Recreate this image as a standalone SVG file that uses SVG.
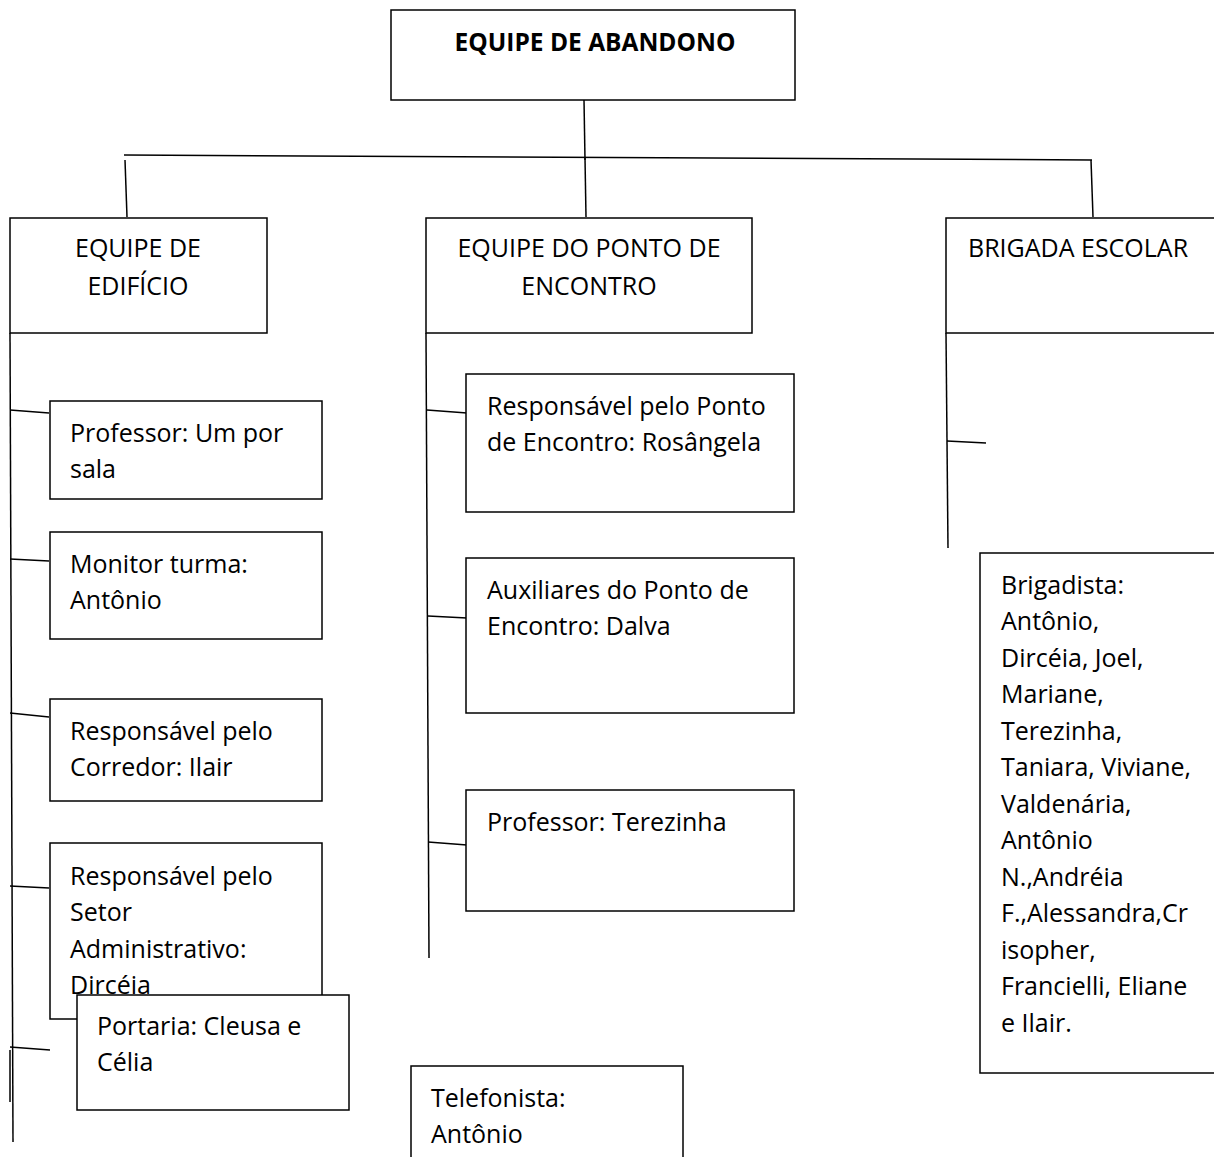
<svg xmlns="http://www.w3.org/2000/svg" width="1214" height="1157" viewBox="0 0 1214 1157">
<style>
.box{fill:#fff;stroke:#000;stroke-width:1.5}
.t{font-family:"Open Sans","Noto Sans","Liberation Sans",sans-serif;font-size:25px;fill:#000}
.b{font-weight:bold;font-size:24.5px}
.c{text-anchor:middle}
.ln{stroke:#000;stroke-width:1.5;fill:none}
</style>
<rect width="1214" height="1157" fill="#fff"/>
<g id="connectors">
<line class="ln" x1="584" y1="100" x2="585" y2="160"/>
<line class="ln" x1="124" y1="155" x2="1092" y2="160"/>
<line class="ln" x1="125" y1="160" x2="127" y2="217"/>
<line class="ln" x1="585" y1="158" x2="586" y2="217"/>
<line class="ln" x1="1091" y1="160" x2="1093" y2="217"/>
<line class="ln" x1="10" y1="333" x2="13" y2="1142"/>
<line class="ln" x1="10" y1="1050" x2="10" y2="1102"/>
<line class="ln" x1="10" y1="410" x2="49" y2="413"/>
<line class="ln" x1="10" y1="559" x2="49" y2="561"/>
<line class="ln" x1="10" y1="713" x2="49" y2="717"/>
<line class="ln" x1="10" y1="886" x2="49" y2="888"/>
<line class="ln" x1="10" y1="1047" x2="50" y2="1050"/>
<line class="ln" x1="426" y1="333" x2="429" y2="958"/>
<line class="ln" x1="427" y1="410" x2="467" y2="413"/>
<line class="ln" x1="428" y1="616" x2="467" y2="618"/>
<line class="ln" x1="428" y1="842" x2="467" y2="845"/>
<line class="ln" x1="946" y1="333" x2="948" y2="548"/>
<line class="ln" x1="947" y1="441" x2="986" y2="443"/>
</g>
<g id="root">
<rect class="box" x="391" y="10" width="404" height="90"/>
<text class="t b c" x="595" y="51">EQUIPE DE ABANDONO</text>
</g>
<g id="equipe-edificio">
<rect class="box" x="10" y="218" width="257" height="115"/>
<text class="t c" x="138" y="257">EQUIPE DE</text>
<text class="t c" x="138" y="295">EDIFÍCIO</text>
</g>
<g id="equipe-ponto">
<rect class="box" x="426" y="218" width="326" height="115"/>
<text class="t c" x="589" y="257">EQUIPE DO PONTO DE</text>
<text class="t c" x="589" y="295">ENCONTRO</text>
</g>
<g id="brigada">
<rect class="box" x="946" y="218" width="280" height="115"/>
<text class="t" x="968" y="257">BRIGADA ESCOLAR</text>
</g>
<g id="professor">
<rect class="box" x="50" y="401" width="272" height="98"/>
<text class="t" x="70" y="442">Professor: Um por</text>
<text class="t" x="70" y="478">sala</text>
</g>
<g id="monitor">
<rect class="box" x="50" y="532" width="272" height="107"/>
<text class="t" x="70" y="573">Monitor turma:</text>
<text class="t" x="70" y="609">Antônio</text>
</g>
<g id="corredor">
<rect class="box" x="50" y="699" width="272" height="102"/>
<text class="t" x="70" y="740">Responsável pelo</text>
<text class="t" x="70" y="776">Corredor: Ilair</text>
</g>
<g id="setor">
<rect class="box" x="50" y="843" width="272" height="176"/>
<text class="t" x="70" y="885">Responsável pelo</text>
<text class="t" x="70" y="921">Setor</text>
<text class="t" x="70" y="958">Administrativo:</text>
<text class="t" x="70" y="994">Dircéia</text>
</g>
<g id="portaria">
<rect class="box" x="77" y="995" width="272" height="115"/>
<text class="t" x="97" y="1035">Portaria: Cleusa e</text>
<text class="t" x="97" y="1071">Célia</text>
</g>
<g id="resp-ponto">
<rect class="box" x="466" y="374" width="328" height="138"/>
<text class="t" x="487" y="415">Responsável pelo Ponto</text>
<text class="t" x="487" y="451">de Encontro: Rosângela</text>
</g>
<g id="auxiliares">
<rect class="box" x="466" y="558" width="328" height="155"/>
<text class="t" x="487" y="599">Auxiliares do Ponto de</text>
<text class="t" x="487" y="635">Encontro: Dalva</text>
</g>
<g id="prof-terezinha">
<rect class="box" x="466" y="790" width="328" height="121"/>
<text class="t" x="487" y="831">Professor: Terezinha</text>
</g>
<g id="telefonista">
<rect class="box" x="411" y="1066" width="272" height="110"/>
<text class="t" x="431" y="1107">Telefonista:</text>
<text class="t" x="431" y="1143">Antônio</text>
</g>
<g id="brigadista">
<rect class="box" x="980" y="553" width="250" height="520"/>
<text class="t" x="1001" y="594">Brigadista:</text>
<text class="t" x="1001" y="630">Antônio,</text>
<text class="t" x="1001" y="667">Dircéia, Joel,</text>
<text class="t" x="1001" y="703">Mariane,</text>
<text class="t" x="1001" y="740">Terezinha,</text>
<text class="t" x="1001" y="776">Taniara, Viviane,</text>
<text class="t" x="1001" y="813">Valdenária,</text>
<text class="t" x="1001" y="849">Antônio</text>
<text class="t" x="1001" y="886">N.,Andréia</text>
<text class="t" x="1001" y="922">F.,Alessandra,Cr</text>
<text class="t" x="1001" y="959">isopher,</text>
<text class="t" x="1001" y="995">Francielli, Eliane</text>
<text class="t" x="1001" y="1032">e Ilair.</text>
</g>
</svg>
